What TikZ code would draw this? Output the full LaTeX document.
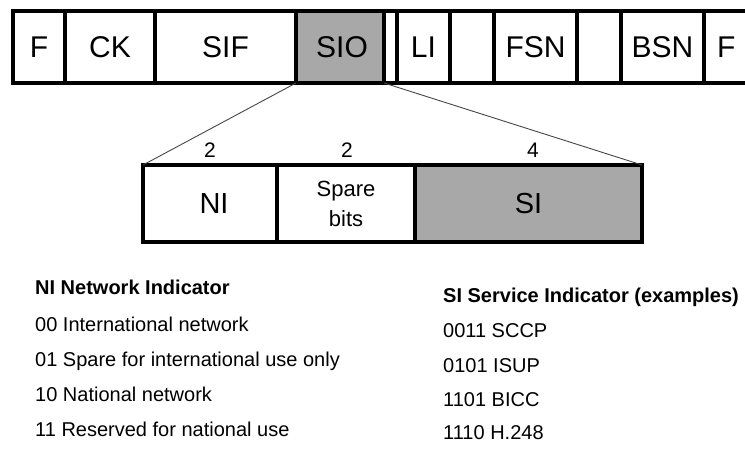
\documentclass[tikz,border=0pt]{standalone}
\usepackage{fontspec}
\setmainfont{Liberation Sans}
\definecolor{fieldgray}{RGB}{168,168,168}
\definecolor{linkgray}{RGB}{70,70,70}
\begin{document}
\begin{tikzpicture}[x=1pt,y=1pt,
  field/.style={draw, line width=3.7pt, inner sep=0pt, outer sep=0pt,
    minimum height=72pt, font=\fontsize{30}{35}\selectfont},
  subfield/.style={draw, line width=3.7pt, inner sep=0pt, outer sep=0pt,
    minimum height=77pt, font=\fontsize{29}{34}\selectfont, align=center},
  bitcount/.style={font=\fontsize{21}{24}\selectfont, inner sep=0pt},
  legend/.style={anchor=base west, inner sep=0pt, font=\fontsize{20}{24}\selectfont},
  legendhead/.style={legend, font=\fontsize{20}{24}\selectfont\bfseries},
  link/.style={draw=linkgray, line width=0.9pt}]
\useasboundingbox (0,0) rectangle (745,450);
\clip (0,0) rectangle (745,450);

% signal unit, header fields
\node[field, minimum width=52pt]  (f1)  at (39,403)    {F};
\node[field, minimum width=90pt]  (ck)  at (110,403)   {CK};
\node[field, minimum width=141pt] (sif) at (225.5,403) {SIF};
\node[field, minimum width=88pt, fill=fieldgray] (sio) at (340,403) {\hspace*{4pt}SIO};
\node[field, minimum width=13pt]  (sp0) at (390.5,403) {};
\node[field, minimum width=53pt]  (li)  at (423.5,403) {LI};
\node[field, minimum width=44pt]  (sp1) at (472,403)   {};
\node[field, minimum width=83pt]  (fsn) at (535.5,403) {FSN};
\node[field, minimum width=44pt]  (sp2) at (599,403)   {};
\node[field, minimum width=83pt]  (bsn) at (662.5,403) {BSN};
\node[field, minimum width=56pt, text width=30pt] (f2) at (732,403) {F};

% SIO octet breakdown
\node[subfield, minimum width=134pt] (ni) at (210,246.5) {\hspace*{8pt}NI};
\node[subfield, minimum width=138pt, font=\fontsize{22}{30}\selectfont] (spare) at (346,246.5) {Spare\\bits};
\node[subfield, minimum width=227pt, fill=fieldgray] (si) at (528.5,246.5) {SI};

\node[bitcount] (n1) at (210,300) {2};
\node[bitcount] (n2) at (347,300) {2};
\node[bitcount] (n3) at (533,300) {4};

\draw[link] (sio.south west) -- (ni.north west);
\draw[link] (sio.south east) -- (si.north east);

% legends
\node[legendhead] (nihead) at (35,155) {NI Network Indicator};
\node[legend] (ni0) at (35,118) {00 International network};
\node[legend] (ni1) at (35,83)  {01 Spare for international use only};
\node[legend] (ni2) at (35,48)  {10 National network};
\node[legend] (ni3) at (35,13)  {11 Reserved for national use};

\node[legendhead] (sihead) at (443,147) {SI Service Indicator (examples)};
\node[legend] (si0) at (443,112) {0011 SCCP};
\node[legend] (si1) at (443,77)  {0101 ISUP};
\node[legend] (si2) at (443,43)  {1101 BICC};
\node[legend] (si3) at (443,10)  {1110 H.248};
\end{tikzpicture}
\end{document}
